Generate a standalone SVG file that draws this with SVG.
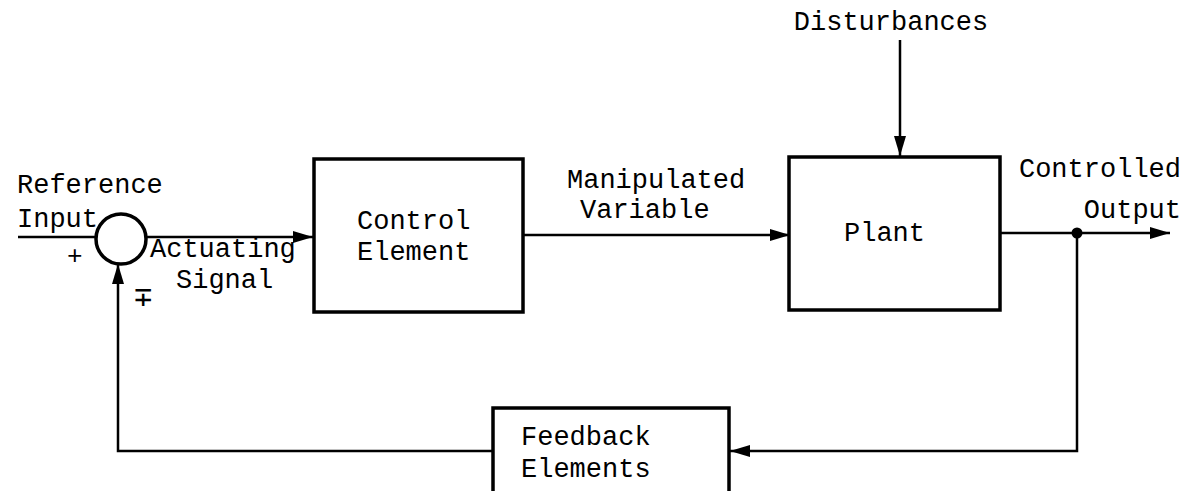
<svg xmlns="http://www.w3.org/2000/svg" width="1191" height="491" viewBox="0 0 1191 491">
<style>
text{font-family:"Liberation Mono","Courier New",monospace;font-size:27px;fill:#000}
.box{fill:#fff;stroke:#000;stroke-width:3.5}
.wire{fill:none;stroke:#000;stroke-width:2.5}
.sm{font-size:26px}
.pm{font-family:"DejaVu Sans Mono","DejaVu Sans",monospace;font-size:30px}
</style>
<defs>
<marker id="arr" markerUnits="userSpaceOnUse" markerWidth="22" markerHeight="14" refX="20" refY="7" orient="auto">
<path d="M0,1 L20,7 L0,13 Z" fill="#000"/>
</marker>
</defs>
<rect width="1191" height="491" fill="#fff"/>
<g id="connectors">
<path class="wire" d="M18,237 H96"/>
<path class="wire" d="M147,237 H313" marker-end="url(#arr)"/>
<path class="wire" d="M523,235 H790" marker-end="url(#arr)"/>
<path class="wire" d="M900,40 V156" marker-end="url(#arr)"/>
<path class="wire" d="M1000,233 H1170" marker-end="url(#arr)"/>
<path class="wire" d="M1077,233 V451 H730" marker-end="url(#arr)"/>
<path class="wire" d="M493,451 H118 V264" marker-end="url(#arr)"/>
<circle cx="1077" cy="233" r="5.5" fill="#000"/>
</g>
<g id="sum">
<circle cx="121" cy="239" r="25" fill="#fff" stroke="#000" stroke-width="3.5"/>
<text class="sm" x="67" y="264">+</text>
<text class="pm" x="134" y="306">∓</text>
</g>
<g id="ref-label">
<text x="17" y="193">Reference</text>
<text x="17" y="227">Input</text>
</g>
<g id="act-label">
<text x="150" y="257">Actuating</text>
<text x="176" y="288">Signal</text>
</g>
<g id="control">
<rect class="box" x="314" y="159" width="209" height="153"/>
<text x="357" y="229">Control</text>
<text x="357" y="260">Element</text>
</g>
<g id="manip-label">
<text x="567" y="188">Manipulated</text>
<text x="580" y="218">Variable</text>
</g>
<g id="plant">
<rect class="box" x="789" y="157" width="211" height="153"/>
<text x="844" y="241">Plant</text>
</g>
<g id="dist-label">
<text x="891" y="30" text-anchor="middle">Disturbances</text>
</g>
<g id="out-label">
<text x="1181" y="177" text-anchor="end">Controlled</text>
<text x="1181" y="218" text-anchor="end">Output</text>
</g>
<g id="feedback">
<rect class="box" x="493" y="408" width="236" height="100"/>
<text x="521" y="445">Feedback</text>
<text x="521" y="477">Elements</text>
</g>
</svg>
